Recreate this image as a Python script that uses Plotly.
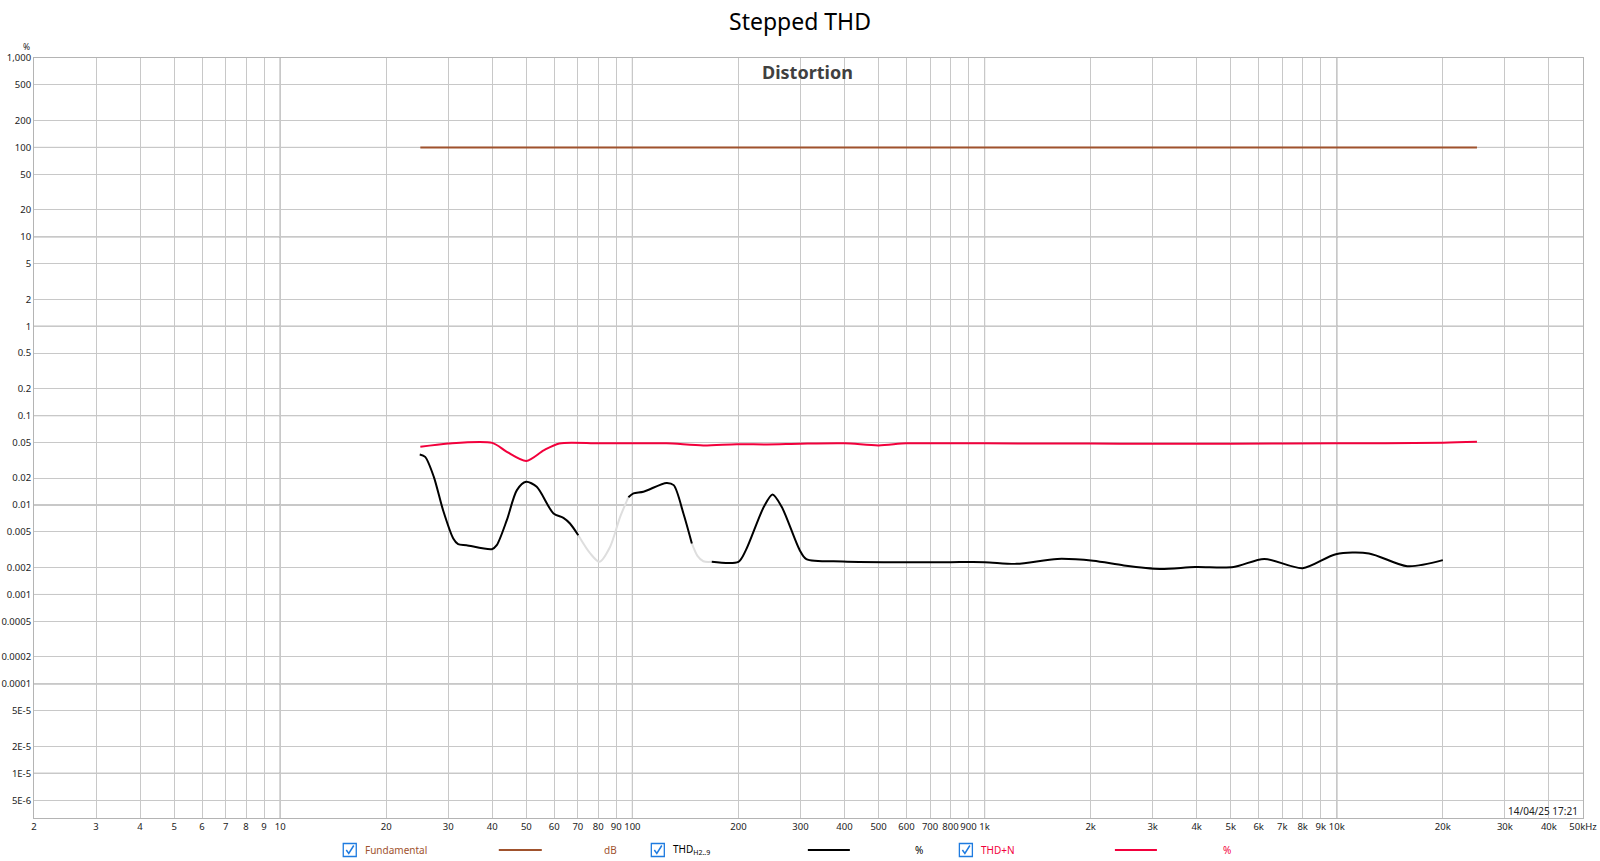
import plotly.graph_objects as go

# ---------------- data ----------------
fund_freq = [25, 25000]
fund_vals = [100, 100]

thdn_freq = [25, 30, 40, 44, 50, 56, 62, 80, 100, 125, 159, 198, 241, 300, 400, 500, 600,
             800, 1000, 2000, 3000, 5000, 10000, 20000, 25000]
thdn_vals = [0.0448, 0.0489, 0.0496, 0.0394, 0.0312, 0.0409, 0.0489, 0.049, 0.049, 0.049,
             0.0464, 0.048, 0.0476, 0.0485, 0.049, 0.0465, 0.049, 0.049, 0.049, 0.0488,
             0.0485, 0.0485, 0.049, 0.0498, 0.051]

# THD H2..9, black (valid) segments
thd_seg1_freq = [24.9, 25.8, 27.3, 29.0, 31.0, 32.0, 33.8, 39.9, 41.2, 44.0, 47.0, 49.9,
                 53.5, 59.7, 63.7, 66.5, 70.2]
thd_seg1_vals = [0.0368, 0.0346, 0.0207, 0.00877, 0.00423, 0.00366, 0.00356, 0.00321,
                 0.00356, 0.00678, 0.0147, 0.0182, 0.016, 0.00805, 0.0072, 0.00622, 0.0046]
thd_seg2_freq = [97.4, 100.7, 107.5, 125, 131, 139.6, 147.5]
thd_seg2_vals = [0.0122, 0.0135, 0.0141, 0.0177, 0.0167, 0.00805, 0.00372]
thd_seg3_freq = [168, 200, 210, 236, 250, 265.6, 298.6, 311.8, 396, 591, 800, 1000, 1232,
                 1609, 2034, 2486, 3140, 3965, 5094, 6223, 7994, 9940, 12340, 15850, 20000]
thd_seg3_vals = [0.00232, 0.00232, 0.00313, 0.0095, 0.01314, 0.0095, 0.00313, 0.00248,
                 0.00234, 0.00229, 0.0023, 0.0023, 0.0022, 0.0025, 0.00238, 0.00211,
                 0.00193, 0.00203, 0.00203, 0.0025, 0.00197, 0.00282, 0.00288, 0.00207,
                 0.00242]
# THD H2..9, grey (below noise) segments
thd_gray1_freq = [70.2, 75.9, 80.6, 86.4, 92.3, 97.4]
thd_gray1_vals = [0.0046, 0.00288, 0.00232, 0.0034, 0.00738, 0.0122]
thd_gray2_freq = [147.5, 153, 159, 168]
thd_gray2_vals = [0.00372, 0.0027, 0.00235, 0.00232]

x_tick_vals = [2, 3, 4, 5, 6, 7, 8, 9, 10, 20, 30, 40, 50, 60, 70, 80, 90, 100,
               200, 300, 400, 500, 600, 700, 800, 900, 1000, 2000, 3000, 4000, 5000,
               6000, 7000, 8000, 9000, 10000, 20000, 30000, 40000, 50000]
x_tick_text = ["2", "3", "4", "5", "6", "7", "8", "9", "10", "20", "30", "40", "50", "60",
               "70", "80", "90", "100", "200", "300", "400", "500", "600", "700", "800",
               "900", "1k", "2k", "3k", "4k", "5k", "6k", "7k", "8k", "9k", "10k", "20k",
               "30k", "40k", "50kHz"]
x_decades = [10, 100, 1000, 10000]

y_tick_vals = [1000, 500, 200, 100, 50, 20, 10, 5, 2, 1, 0.5, 0.2, 0.1, 0.05, 0.02, 0.01,
               0.005, 0.002, 0.001, 0.0005, 0.0002, 0.0001, 5e-5, 2e-5, 1e-5, 5e-6]
y_tick_text = ["1,000", "500", "200", "100", "50", "20", "10", "5", "2", "1", "0.5", "0.2",
               "0.1", "0.05", "0.02", "0.01", "0.005", "0.002", "0.001", "0.0005", "0.0002",
               "0.0001", "5E-5", "2E-5", "1E-5", "5E-6"]
y_decades = [1e-5, 1e-4, 1e-3, 1e-2, 1e-1, 1, 10, 100]

# ---------------- styling ----------------
BROWN = "#A0522D"
RED = "#F2003C"
BLACK = "#000000"
GREY_SEG = "#DEDEDE"
GRID = "#C8C8C8"
GRID_DARK = "#858585"
FONT = "Noto Sans, Open Sans, sans-serif"

L, R, T, B = 34.3, 1583.0, 58.0, 818.0
W, H = 1600, 861


def px(x):
    return (x - L) / (R - L)


def py(y):
    return (B - y) / (B - T)


fig = go.Figure()

fig.add_trace(go.Scatter(x=fund_freq, y=fund_vals, mode="lines",
                         line=dict(color=BROWN, width=2), hoverinfo="skip"))
fig.add_trace(go.Scatter(x=thdn_freq, y=thdn_vals, mode="lines",
                         line=dict(color=RED, width=2, shape="spline", smoothing=0.8),
                         hoverinfo="skip"))
for fx, fv in [(thd_gray1_freq, thd_gray1_vals), (thd_gray2_freq, thd_gray2_vals)]:
    fig.add_trace(go.Scatter(x=fx, y=fv, mode="lines",
                             line=dict(color=GREY_SEG, width=2, shape="spline", smoothing=0.8),
                             hoverinfo="skip"))
for fx, fv in [(thd_seg1_freq, thd_seg1_vals), (thd_seg2_freq, thd_seg2_vals),
               (thd_seg3_freq, thd_seg3_vals)]:
    fig.add_trace(go.Scatter(x=fx, y=fv, mode="lines",
                             line=dict(color=BLACK, width=2, shape="spline", smoothing=0.8),
                             hoverinfo="skip"))

shapes = []
for d in x_decades:
    shapes.append(dict(type="line", xref="x", yref="paper", x0=d, x1=d, y0=0, y1=1,
                       line=dict(color=GRID_DARK, width=1), layer="below"))
for d in y_decades:
    shapes.append(dict(type="line", xref="paper", yref="y", x0=0, x1=1, y0=d, y1=d,
                       line=dict(color=GRID_DARK, width=1), layer="below"))

annotations = [
    dict(text="<b>Distortion</b>", xref="paper", yref="paper", x=px(808), y=py(72),
         xanchor="center", yanchor="middle",
         showarrow=False, font=dict(family=FONT, size=18, color="#404040")),
    dict(text="%", xref="paper", yref="paper", x=px(27), y=py(47), showarrow=False,
         xanchor="center", yanchor="middle",
         font=dict(family=FONT, size=8.5, color="#222")),
    dict(text="14/04/25 17:21", xref="paper", yref="paper", x=px(1580), y=py(811),
         xanchor="right", yanchor="middle", showarrow=False,
         font=dict(family=FONT, size=10, color="#222")),
]

# legend (drawn manually)
LY = 850
legend_items = [
    (350, 363, "Fundamental", BROWN, (499, 542), 602, "dB"),
    (658, 671, "THD<sub>H2..9</sub>", BLACK, (808, 850), 913, "%"),
    (966, 979, "THD+N", RED, (1115, 1157), 1221, "%"),
]
for cbx, tx, label, col, (l0, l1), ux, unit in legend_items:
    shapes.append(dict(type="rect", xref="paper", yref="paper",
                       x0=px(cbx - 6.5), x1=px(cbx + 6.5), y0=py(LY + 6.5), y1=py(LY - 6.5),
                       line=dict(color="#1E7BE0", width=1.3), fillcolor="white"))
    shapes.append(dict(type="path", xref="paper", yref="paper",
                       path=f"M {px(cbx-3.5)},{py(LY)} L {px(cbx-1)},{py(LY+3.5)} "
                            f"L {px(cbx+4)},{py(LY-4.5)}",
                       line=dict(color="#1E7BE0", width=1.5)))
    shapes.append(dict(type="line", xref="paper", yref="paper", x0=px(l0), x1=px(l1),
                       y0=py(LY), y1=py(LY), line=dict(color=col, width=2)))
    annotations.append(dict(text=label, xref="paper", yref="paper", x=px(tx), y=py(LY),
                            xanchor="left", yanchor="middle", showarrow=False,
                            font=dict(family=FONT, size=10, color=col)))
    annotations.append(dict(text=unit, xref="paper", yref="paper", x=px(ux), y=py(LY),
                            xanchor="left", yanchor="middle", showarrow=False,
                            font=dict(family=FONT, size=10, color=col)))

fig.update_layout(
    width=W, height=H,
    margin=dict(l=L, r=W - R, t=T, b=H - B, pad=0, autoexpand=False),
    paper_bgcolor="white", plot_bgcolor="white",
    showlegend=False,
    title=dict(text="Stepped THD", x=0.5, xref="container", y=1 - 22 / H,
               yref="container", xanchor="center", yanchor="middle",
               font=dict(family=FONT, size=23, color="#000")),
    xaxis=dict(type="log", range=[0.30103, 4.69897], tickmode="array",
               tickvals=x_tick_vals, ticktext=x_tick_text, showgrid=True,
               gridcolor=GRID, gridwidth=1, zeroline=False, showline=True,
               linecolor="#B4B4B4", mirror=True, ticks="", tickangle=0,
               automargin=False,
               tickfont=dict(family=FONT, size=9.5, color="#222")),
    yaxis=dict(type="log", range=[-5.5, 3], tickmode="array", tickvals=y_tick_vals,
               ticktext=y_tick_text, showgrid=True, gridcolor=GRID, gridwidth=1,
               zeroline=False, showline=True, linecolor="#B4B4B4", mirror=True, ticks="",
               automargin=False,
               tickfont=dict(family=FONT, size=9.5, color="#222")),
    shapes=shapes,
    annotations=annotations,
)

fig.write_html("out.html",
               config={"displayModeBar": False},
               post_script="document.body.style.margin='0px';"
                           "document.body.style.overflow='hidden';")
